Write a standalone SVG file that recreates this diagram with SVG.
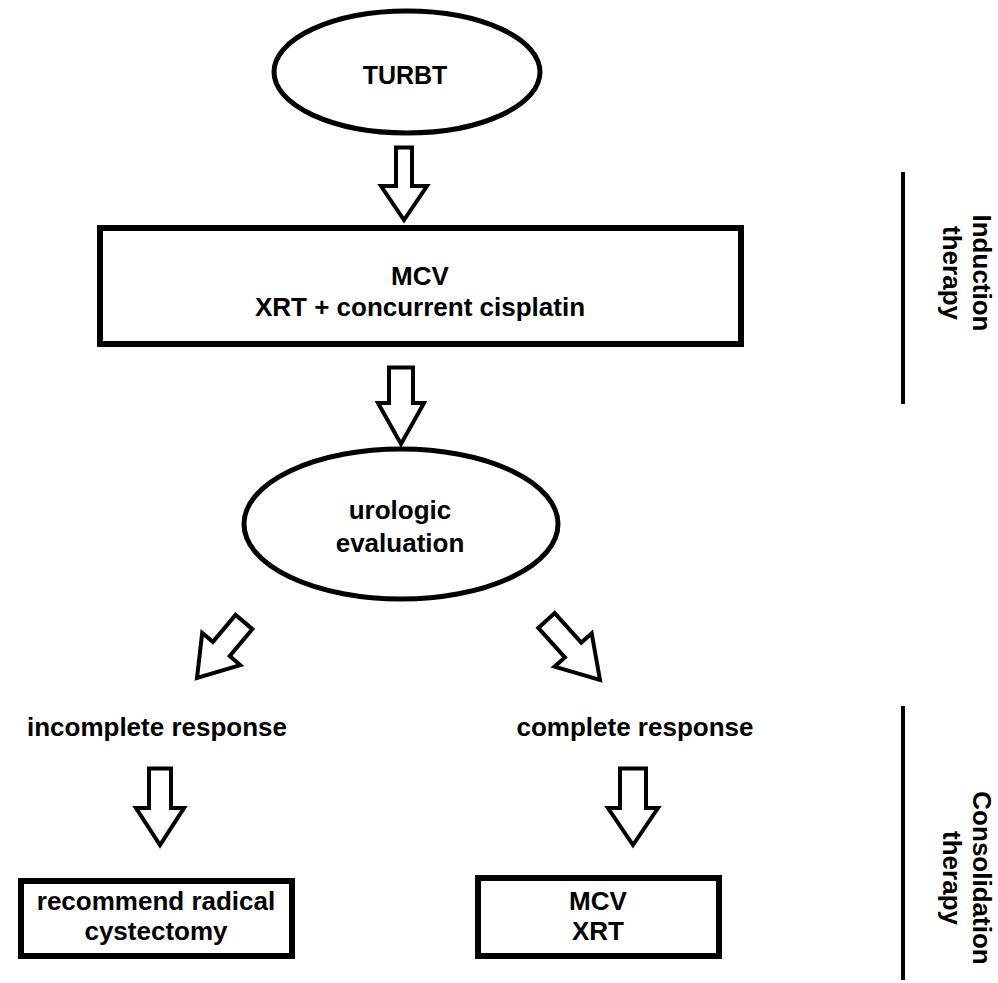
<svg xmlns="http://www.w3.org/2000/svg" width="998" height="983" viewBox="0 0 998 983">
<style>
  .t { font-family: "Liberation Sans", Arial, sans-serif; font-weight: bold; font-size: 26px; fill: #000; text-anchor: middle; }
  .oval { fill: #fff; stroke: #000; stroke-width: 5; }
  .box { fill: #fff; stroke: #000; stroke-width: 6; }
  .arr { fill: #fff; stroke: #000; stroke-width: 4; stroke-linejoin: miter; }
  .bar { stroke: #000; stroke-width: 4; }
</style>
<rect width="998" height="983" fill="#fff"/>
<g id="connectors">
  <polygon class="arr" points="396,147.5 412,147.5 412,186 427,186 404,220 381,186 396,186"/>
  <polygon class="arr" points="389,367.5 413,367.5 413,403 424,403 401,444 378,403 389,403"/>
  <polygon class="arr" points="235.6,614.9 252.4,629.1 229.7,656.1 240.2,665.1 197,678 202.2,632.9 212.9,641.9"/>
  <polygon class="arr" points="554.7,613.1 581.3,642.6 591.7,633.3 600,680 554.5,666.7 564.9,657.4 538.3,627.9"/>
  <polygon class="arr" points="149,768.5 171,768.5 171,808 184,808 160,845 136,808 149,808"/>
  <polygon class="arr" points="620,768.5 646,768.5 646,808 658,808 633,845 608,808 620,808"/>
</g>
<g id="turbt">
  <ellipse class="oval" cx="407" cy="72" rx="133" ry="61"/>
  <text class="t" x="405" y="84" style="font-size:25px">TURBT</text>
</g>
<g id="induction-box">
  <rect class="box" x="100" y="228" width="641" height="116"/>
  <text class="t" x="420" y="285">MCV</text>
  <text class="t" x="420" y="316">XRT + concurrent cisplatin</text>
</g>
<g id="urologic">
  <ellipse class="oval" cx="401" cy="524" rx="157" ry="75"/>
  <text class="t" x="400" y="519">urologic</text>
  <text class="t" x="400" y="552">evaluation</text>
</g>
<g id="incomplete">
  <text class="t" x="157" y="736">incomplete response</text>
</g>
<g id="complete">
  <text class="t" x="635" y="736">complete response</text>
</g>
<g id="cystectomy">
  <rect class="box" x="21" y="881" width="271" height="75"/>
  <text class="t" x="156" y="910">recommend radical</text>
  <text class="t" x="156" y="940">cystectomy</text>
</g>
<g id="consolidation-box">
  <rect class="box" x="478" y="878" width="241" height="78"/>
  <text class="t" x="598" y="910">MCV</text>
  <text class="t" x="598" y="940">XRT</text>
</g>
<g id="induction-label">
  <line class="bar" x1="903" y1="172" x2="903" y2="404"/>
  <text class="t" transform="translate(973,273) rotate(90)">Induction</text>
  <text class="t" transform="translate(943,273) rotate(90)">therapy</text>
</g>
<g id="consolidation-label">
  <line class="bar" x1="903" y1="706" x2="903" y2="980"/>
  <text class="t" transform="translate(973,878) rotate(90)">Consolidation</text>
  <text class="t" transform="translate(943,878) rotate(90)">therapy</text>
</g>
</svg>
